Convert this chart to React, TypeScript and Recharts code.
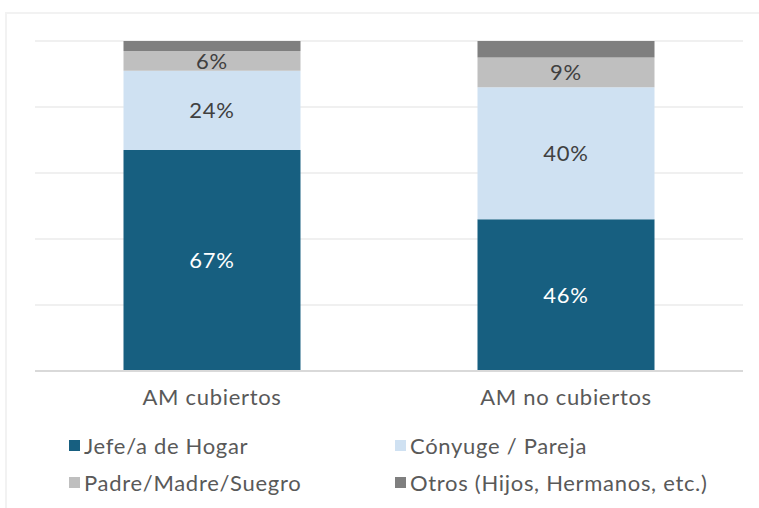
import { BarChart, Bar, XAxis, YAxis, CartesianGrid, LabelList, Legend } from 'recharts';

const categories = ['AM cubiertos', 'AM no cubiertos'];
const jefe = [67, 46];
const conyuge = [24, 40];
const padre = [6, 9];
const otros = [3, 5];
const yTicks = [0, 20, 40, 60, 80, 100];

const series = [
  { key: 'jefe', name: 'Jefe/a de Hogar', color: '#175f80', label: '#ffffff' },
  { key: 'conyuge', name: 'Cónyuge / Pareja', color: '#cfe1f2', label: '#404040' },
  { key: 'padre', name: 'Padre/Madre/Suegro', color: '#bfbfbf', label: '#404040' },
  { key: 'otros', name: 'Otros (Hijos, Hermanos, etc.)', color: '#7f7f7f', label: null },
];

const data = categories.map((name, i) => ({
  name,
  jefe: jefe[i],
  conyuge: conyuge[i],
  padre: padre[i],
  otros: otros[i],
}));

const FONT = 'Lato, sans-serif';
const SPACING = 0.7;

function LegendBox() {
  return (
    <div style={{ display: 'grid', gridTemplateColumns: '326px 340px', rowGap: 13, paddingLeft: 69, paddingTop: 40, fontFamily: FONT, fontSize: 22, letterSpacing: SPACING, color: '#595959', textAlign: 'left' }}>
      {series.map((s) => (
        <div key={s.key} style={{ display: 'flex', alignItems: 'center', height: 24, whiteSpace: 'nowrap' }}>
          <span style={{ width: 11, height: 11, background: s.color, marginRight: 4, display: 'inline-block' }} />
          <span>{s.name}</span>
        </div>
      ))}
    </div>
  );
}

export default function App() {
  return (
    <div style={{ position: 'absolute', left: 0, top: 0, width: 759, height: 508, background: '#fff', overflow: 'hidden' }}>
      <div style={{ position: 'absolute', left: 5, top: 12, width: 760, height: 510, border: '2px solid #f2f2f2', boxSizing: 'border-box' }} />
      <BarChart
        width={759}
        height={508}
        data={data}
        margin={{ top: 41, right: 16, left: 35, bottom: 15 }}
        barCategoryGap="25%"
        style={{ position: 'absolute', left: 0, top: 0 }}
      >
        <CartesianGrid vertical={false} stroke="#f0f0f0" strokeWidth={2} />
        <YAxis hide domain={[0, 100]} ticks={yTicks} />
        <XAxis
          dataKey="name"
          axisLine={{ stroke: '#d9d9d9', strokeWidth: 2 }}
          tickLine={false}
          tickMargin={12}
          height={22}
          tick={{ fill: '#595959', fontSize: 22, fontFamily: FONT, letterSpacing: SPACING }}
        />
        <Legend
          verticalAlign="bottom"
          content={<LegendBox />}
          wrapperStyle={{ height: 100, left: 0, width: 759 }}
        />
        {series.map((s) => (
          <Bar key={s.key} dataKey={s.key} name={s.name} stackId="a" fill={s.color} isAnimationActive={false}>
            {s.label && (
              <LabelList
                dataKey={s.key}
                position="center"
                formatter={(v: number) => `${v}%`}
                fill={s.label}
                style={{ fontSize: 22, fontFamily: FONT, letterSpacing: SPACING }}
              />
            )}
          </Bar>
        ))}
      </BarChart>
    </div>
  );
}
